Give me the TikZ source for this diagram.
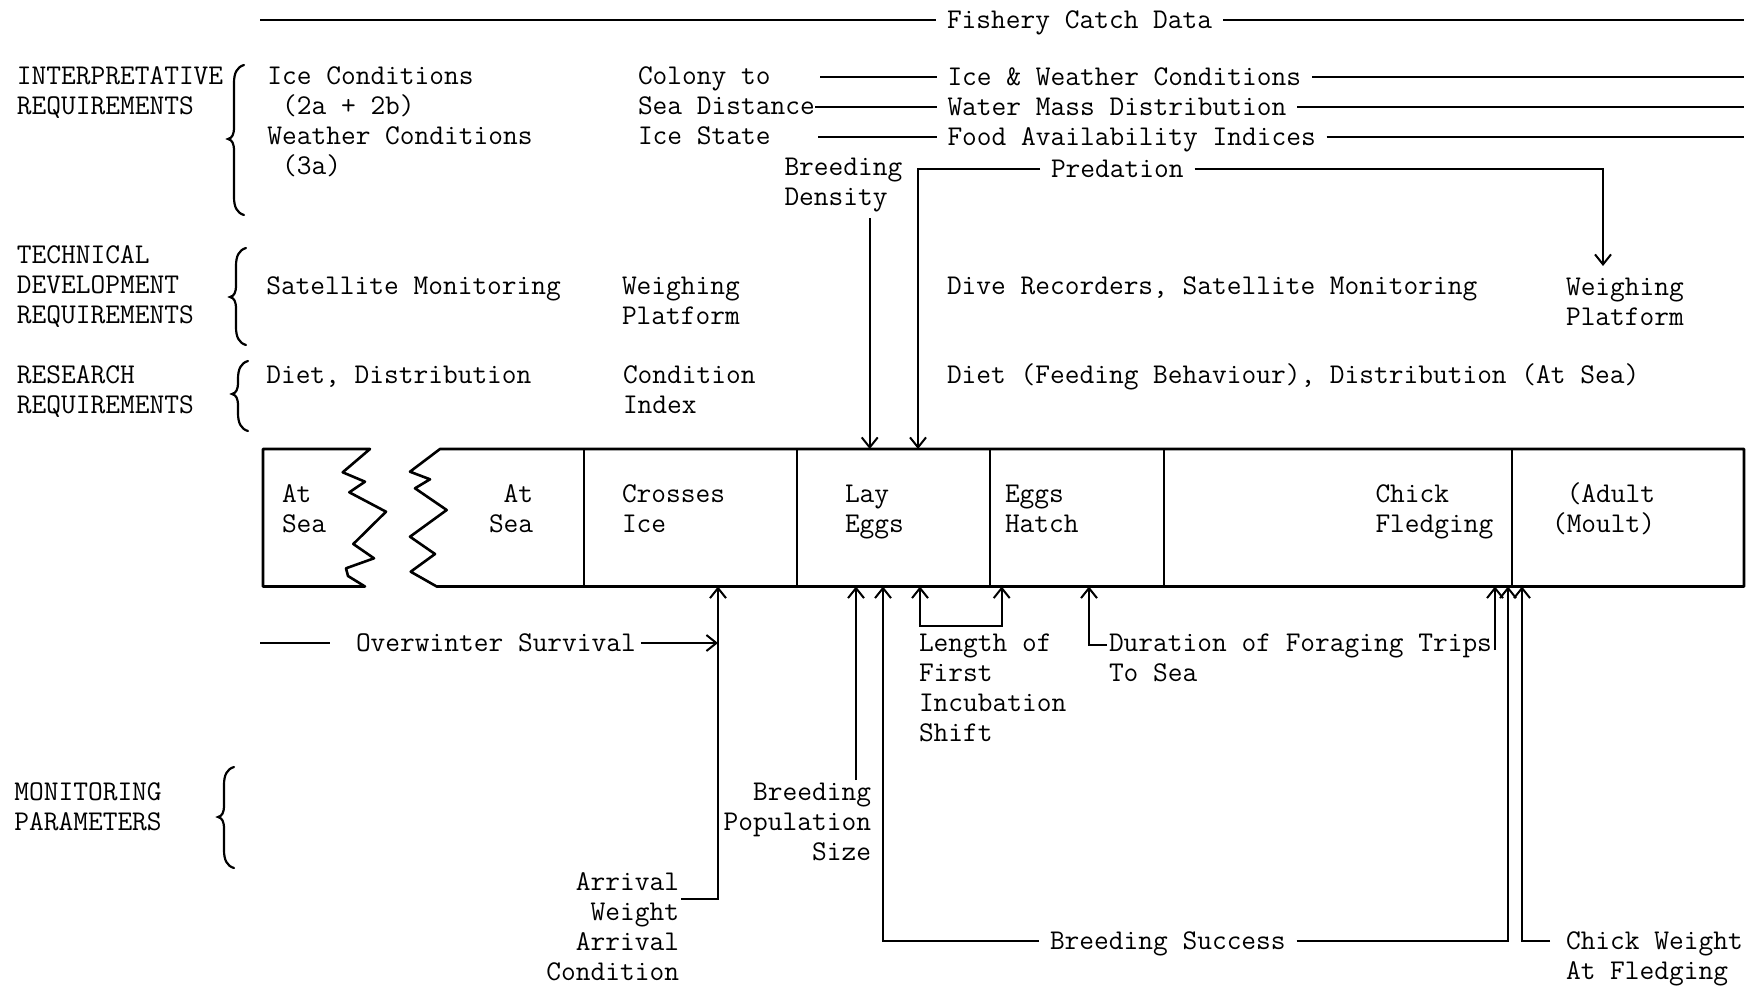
\documentclass[tikz,border=0pt]{standalone}
\usepackage{fontspec}
\usetikzlibrary{arrows.meta}
\newcommand\mybrace[4]{%
  \draw[brace] (#1+10,#2) .. controls (#1+3,#2+2) and (#1,#2+8) .. (#1,#2+18)
    -- (#1,#3-12) .. controls (#1,#3-4) and (#1-2,#3-1) .. (#1-6,#3)
    .. controls (#1-2,#3+1) and (#1,#3+4) .. (#1,#3+12)
    -- (#1,#4-18) .. controls (#1,#4-8) and (#1+3,#4-2) .. (#1+10,#4);}
\begin{document}
\begin{tikzpicture}[x=0.5pt,y=-0.5pt,line width=1pt,
  ml/.style={font=\ttfamily\fontsize{14.3}{15}\selectfont,inner sep=0pt,align=left,anchor=base west},
  mr/.style={font=\ttfamily\fontsize{14.3}{15}\selectfont,inner sep=0pt,align=right,anchor=base east},
  sl/.style={font=\ttfamily\fontsize{14.3}{15}\selectfont,inner ysep=0pt,inner xsep=5pt,text height=8.5pt,text depth=0pt,anchor=west},
  box/.style={line width=1.3pt,line join=round},
  brace/.style={line width=1.1pt,line cap=round},
  arr/.style={-{Straight Barb[length=5pt,width=8pt]}},
  arrb/.style={{Straight Barb[length=5pt,width=8pt]}-{Straight Barb[length=5pt,width=8pt]}}]
\useasboundingbox (0,0) rectangle (1755,985);

% (multi-line nodes are placed by the baseline of their last line)
% ---- left labels and braces
\node[ml] (interp) at (16,114.5) {INTERPRETATIVE\\REQUIREMENTS};
\node[ml] (tech) at (16,323.5) {TECHNICAL\\DEVELOPMENT\\REQUIREMENTS};
\node[ml] (res) at (16,413.5) {RESEARCH\\REQUIREMENTS};
\node[ml] (mon) at (13.4,830) {MONITORING\\PARAMETERS};
\mybrace{234}{65}{139}{215}
\mybrace{236}{248}{297}{345}
\mybrace{238}{361}{394}{431}
\mybrace{224}{767}{817}{868}

% ---- top rows
\node[sl] (fish) at (936,20) {Fishery Catch Data};
\coordinate (fishL) at (260,20);
\coordinate (fishR) at (1744,20);
\draw (fishL) -- (fish.west);
\draw (fish.east) -- (fishR);

\node[ml] (icec) at (266.4,174.5) {Ice Conditions\\\phantom{x}(2a + 2b)\\Weather Conditions\\\phantom{x}(3a)};
\node[ml] (colony) at (637,144.5) {Colony to\\Sea Distance\\Ice State};

\node[sl] (icew) at (936.5,77) {Ice \& Weather Conditions};
\node[sl] (water) at (936.5,107) {Water Mass Distribution};
\node[sl] (food) at (936.5,137) {Food Availability Indices};
\coordinate (c1) at (820,77);
\coordinate (c2) at (815,107);
\coordinate (c3) at (818,137);
\coordinate (r1) at (1744,77);
\coordinate (r2) at (1744,107);
\coordinate (r3) at (1744,137);
\draw (c1) -- (icew.west);
\draw (icew.east) -- (r1);
\draw (c2) -- (water.west);
\draw (water.east) -- (r2);
\draw (c3) -- (food.west);
\draw (food.east) -- (r3);

\node[ml] (dens) at (783.5,205.5) {Breeding\\Density};
\node[sl] (pred) at (1040,169) {Predation};

% ---- technical / research rows
\node[ml] (sat) at (265.3,294) {Satellite Monitoring};
\node[ml] (wp1) at (621,324) {Weighing\\Platform};
\node[ml] (dive) at (946,294) {Dive Recorders, Satellite Monitoring};
\node[ml] (wp2) at (1565,325) {Weighing\\Platform};
\node[ml] (diet) at (265.3,383.5) {Diet, Distribution};
\node[ml] (ci) at (622,413.5) {Condition\\Index};
\node[ml] (diet2) at (946,383.5) {Diet (Feeding Behaviour), Distribution (At Sea)};

% ---- timeline box
\draw[box] (370,449) -- (263,449) -- (263,586.5) -- (365,586.5) -- (348,576) -- (346,568.3)
  -- (374,558.3) -- (353.3,544) -- (386,511.7) -- (349.3,492.3) -- (365,481.7) -- (342.7,472.3) -- cycle;
\draw[box] (1744,449) -- (440,449) -- (410,471.7) -- (430,479.3) -- (415,488.3) -- (446.7,510)
  -- (410,536.7) -- (435,554) -- (410.7,571.7) -- (436.7,586.5) -- (1744,586.5) -- cycle;
\foreach \dx in {584,797,990,1164,1512} \draw[box] (\dx,449) -- (\dx,586.5);

\node[ml] (s1) at (281,532) {At\\Sea};
\node[ml] (s2) at (488,532) {\phantom{x}At\\Sea};
\node[ml] (s3) at (621,532) {Crosses\\Ice};
\node[ml] (s4) at (844,532) {Lay\\Eggs};
\node[ml] (s5) at (1004,532) {Eggs\\Hatch};
\node[ml] (s6) at (1374.5,532) {Chick\\Fledging};
\node[ml] (s7) at (1551,532) {\phantom{x}(Adult\\(Moult)};

% ---- box attachment points
\coordinate (tA) at (869.7,449);
\coordinate (tB) at (918,449);
\coordinate (bOw) at (718,586.5);
\coordinate (bPop) at (856,586.5);
\coordinate (bSuc) at (883,586.5);
\coordinate (bLen1) at (920,586.5);
\coordinate (bLen2) at (1001.7,586.5);
\coordinate (bDur1) at (1089,586.5);
\coordinate (bDur2) at (1495,586.5);
\coordinate (bSuc2) at (1508,586.5);
\coordinate (bCw) at (1522,586.5);

% ---- arrows from above
\coordinate (densB) at (869.7,218);
\draw[arr] (densB) -- (tA);
\coordinate (wpTop) at (1603,266);
\draw[arr] (pred.west) -- (pred.west -| tB) -- (tB);
\draw[arr] (pred.east) -| (wpTop);

% ---- monitoring parameters
\node[sl,inner xsep=0pt] (ow) at (355,643) {Overwinter Survival};
\coordinate (owL) at (260,643);
\coordinate (owT) at (718,643);
\draw (owL) -- ([xshift=-12.5pt]ow.west);
\draw[arr] ([xshift=2pt]ow.east) -- (owT);

\node[mr] (arv) at (680,980.5) {Arrival\\Weight\\Arrival\\Condition};
\coordinate (arvJ) at (681,899);
\draw[arr] (arvJ) -| (bOw);

\node[mr] (pop) at (872,860) {Breeding\\Population\\Size};
\coordinate (popT) at (856,780);
\draw[arr] (popT) -- (bPop);

\node[sl] (bs) at (1039,941) {Breeding Success};
\draw[arr] (bs.west) -| (bSuc);
\draw[arr] (bs.east) -| (bSuc2);

\node[ml] (cw) at (1565,979.5) {Chick Weight\\At Fledging};
\coordinate (cwJ) at (1550,941);
\draw[arr] (cwJ) -| (bCw);

\node[ml] (len) at (918,741) {Length of\\First\\Incubation\\Shift};
\coordinate (lenJ1) at (920,626);
\coordinate (lenJ2) at (1001.7,626);
\draw[arrb] (bLen1) -- (lenJ1) -- (lenJ2) -- (bLen2);

\node[ml] (dur) at (1108,681) {Duration of Foraging Trips\\To Sea};
\coordinate (durJ) at (1107,645);
\draw[arr] (durJ) -| (bDur1);
\coordinate (durR) at (1495,650);
\draw[arr] (durR) -- (bDur2);
\end{tikzpicture}
\end{document}
